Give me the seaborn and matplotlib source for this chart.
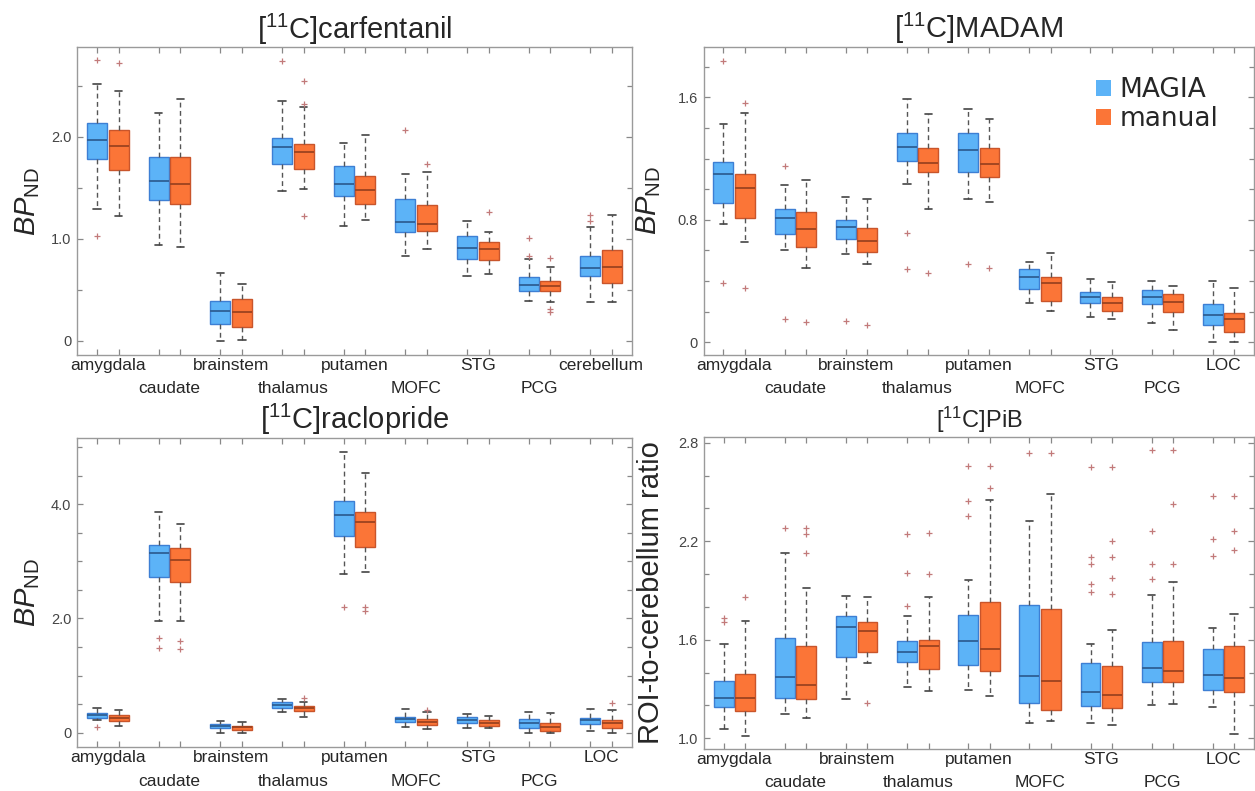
import numpy as np
import pandas as pd
import matplotlib
matplotlib.use('Agg')
import matplotlib.pyplot as plt
import matplotlib.patches as mpatches
from matplotlib.ticker import MultipleLocator
import seaborn as sns

#regions (carfentanil has cerebellum instead of LOC)
regions = ['amygdala', 'caudate', 'brainstem', 'thalamus', 'putamen', 'MOFC', 'STG', 'PCG', 'LOC']
regions_carf = regions[:8] + ['cerebellum']
methods = ['MAGIA', 'manual']

#box summaries: [lower whisker, Q1, median, Q3, upper whisker]
carf_magia = [[1.29, 1.78, 1.965, 2.13, 2.52], [0.94, 1.38, 1.565, 1.80, 2.23],
              [0.0, 0.165, 0.295, 0.385, 0.66], [1.47, 1.73, 1.895, 1.99, 2.355],
              [1.12, 1.415, 1.54, 1.715, 1.94], [0.835, 1.07, 1.16, 1.39, 1.63],
              [0.63, 0.80, 0.905, 1.03, 1.17], [0.385, 0.49, 0.547, 0.62, 0.80],
              [0.38, 0.63, 0.717, 0.83, 1.115]]
carf_magia_out = [[1.03, 2.75], [], [], [2.74], [], [2.065], [], [0.83, 1.01], [1.175, 1.23]]
carf_manual = [[1.22, 1.67, 1.91, 2.07, 2.445], [0.915, 1.34, 1.54, 1.80, 2.37],
               [0.01, 0.13, 0.28, 0.41, 0.555], [1.483, 1.685, 1.85, 1.93, 2.29],
               [1.18, 1.34, 1.475, 1.62, 2.02], [0.90, 1.078, 1.14, 1.326, 1.655],
               [0.655, 0.79, 0.895, 0.97, 1.068], [0.384, 0.489, 0.541, 0.589, 0.726],
               [0.375, 0.57, 0.726, 0.89, 1.232]]
carf_manual_out = [[2.72], [], [], [1.22, 2.32, 2.545], [], [1.737], [1.258], [0.277, 0.31, 0.814], []]

madam_magia = [[0.771, 0.908, 1.097, 1.18, 1.424], [0.603, 0.707, 0.81, 0.871, 1.027],
               [0.577, 0.673, 0.755, 0.799, 0.951], [1.034, 1.186, 1.278, 1.365, 1.589],
               [0.936, 1.11, 1.256, 1.365, 1.524], [0.255, 0.346, 0.428, 0.477, 0.526],
               [0.167, 0.259, 0.298, 0.327, 0.411], [0.128, 0.25, 0.298, 0.342, 0.40],
               [0.0, 0.113, 0.178, 0.248, 0.40]]
madam_magia_out = [[0.385, 1.837], [0.152, 1.153], [0.141], [0.477, 0.712], [0.509], [], [], [], []]
madam_manual = [[0.657, 0.81, 1.006, 1.099, 1.496], [0.483, 0.624, 0.74, 0.849, 1.06],
                [0.511, 0.592, 0.664, 0.745, 0.936], [0.871, 1.11, 1.169, 1.271, 1.491],
                [0.918, 1.078, 1.165, 1.267, 1.457], [0.206, 0.272, 0.385, 0.428, 0.585],
                [0.15, 0.206, 0.255, 0.298, 0.392], [0.08, 0.20, 0.261, 0.314, 0.37],
                [0.004, 0.069, 0.15, 0.189, 0.353]]
madam_manual_out = [[0.353, 1.565], [0.135], [0.113], [0.455], [0.487], [], [], [], []]

racl_magia = [[0.222, 0.263, 0.309, 0.35, 0.426], [1.956, 2.732, 3.14, 3.287, 3.87],
              [0.0, 0.076, 0.123, 0.152, 0.21], [0.368, 0.438, 0.485, 0.531, 0.59],
              [2.773, 3.45, 3.812, 4.05, 4.921], [0.093, 0.181, 0.239, 0.28, 0.42],
              [0.088, 0.163, 0.222, 0.269, 0.321], [0.0, 0.076, 0.163, 0.234, 0.368],
              [0.03, 0.146, 0.222, 0.263, 0.414]]
racl_magia_out = [[0.105], [1.489, 1.664], [], [], [2.195], [], [], [], []]
racl_manual = [[0.123, 0.21, 0.263, 0.309, 0.397], [1.956, 2.633, 3.024, 3.24, 3.649],
               [0.0, 0.047, 0.093, 0.123, 0.181], [0.28, 0.385, 0.427, 0.47, 0.545],
               [2.808, 3.257, 3.695, 3.859, 4.542], [0.058, 0.134, 0.193, 0.234, 0.36],
               [0.076, 0.123, 0.175, 0.222, 0.298], [0.0, 0.035, 0.105, 0.163, 0.35],
               [0.0, 0.088, 0.163, 0.222, 0.397]]
racl_manual_out = [[], [1.465, 1.611], [], [0.61], [2.131, 2.207], [0.40], [], [], [0.514]]

pib_magia = [[1.057, 1.193, 1.244, 1.349, 1.572], [1.146, 1.248, 1.371, 1.609, 2.126],
             [1.237, 1.497, 1.68, 1.747, 1.866], [1.315, 1.467, 1.524, 1.593, 1.747],
             [1.294, 1.446, 1.593, 1.751, 1.964], [1.091, 1.213, 1.381, 1.812, 2.323],
             [1.091, 1.199, 1.284, 1.461, 1.574], [1.203, 1.341, 1.426, 1.585, 1.873],
             [1.193, 1.294, 1.386, 1.542, 1.67]]
pib_magia_out = [[1.71, 1.735], [2.282], [], [1.808, 2.004, 2.242], [2.356, 2.445, 2.658], [2.735],
                 [1.893, 1.938, 2.059, 2.102, 2.654], [1.968, 2.059, 2.262, 2.759], [2.112, 2.213, 2.477]]
pib_manual = [[1.016, 1.168, 1.248, 1.39, 1.714], [1.126, 1.239, 1.325, 1.562, 1.913],
              [1.457, 1.528, 1.655, 1.71, 1.862], [1.288, 1.422, 1.564, 1.599, 1.858],
              [1.26, 1.41, 1.544, 1.83, 2.451], [1.106, 1.175, 1.349, 1.79, 2.487],
              [1.081, 1.183, 1.264, 1.442, 1.66], [1.207, 1.341, 1.41, 1.59, 1.955],
              [1.024, 1.284, 1.365, 1.564, 1.755]]
pib_manual_out = [[1.858], [2.126, 2.242, 2.278], [1.213], [2.0, 2.248], [2.522, 2.658], [2.74],
                  [1.877, 1.978, 2.102, 2.203, 2.65], [2.061, 2.427, 2.755], [2.146, 2.262, 2.475]]

#repeat the quartiles so seaborn reproduces the same box summary
REP = 40

def make_frame(regs, magia, magia_out, manual, manual_out):
    rows = []
    for method, stats, outs in [('MAGIA', magia, magia_out), ('manual', manual, manual_out)]:
        for reg, s, o in zip(regs, stats, outs):
            lo, q1, med, q3, hi = s
            vals = [lo, hi] + [q1] * REP + [med] * REP + [q3] * REP + list(o)
            rows += [(reg, method, v) for v in vals]
    return pd.DataFrame(rows, columns=['region', 'method', 'value'])

sns.set_style('white')
plt.rcParams['font.family'] = ['Liberation Sans', 'DejaVu Sans']
plt.rcParams['mathtext.fontset'] = 'custom'
plt.rcParams['mathtext.rm'] = 'Liberation Sans'
plt.rcParams['mathtext.it'] = 'Liberation Sans:italic'
plt.rcParams['mathtext.bf'] = 'Liberation Sans:bold'

fills = {'MAGIA': '#5cb3f7', 'manual': '#fb7537'}
edges = {'MAGIA': '#3d7fd4', 'manual': '#c9552b'}
medians = {'MAGIA': '#2e5f95', 'manual': '#9c431f'}

bp = r'$\mathit{BP}_{\mathrm{ND}}$'
panels = [
    dict(title='[$^{11}$C]carfentanil', tsize=21, regs=regions_carf,
         df=make_frame(regions_carf, carf_magia, carf_magia_out, carf_manual, carf_manual_out),
         ylim=(-0.14, 2.88), yt=[0, 1.0, 2.0], ytl=['0', '1.0', '2.0'], minor=0.5,
         ylabel=bp, lx=-0.063, rect=[0.06135, 0.5512, 0.44223, 0.38938]),
    dict(title='[$^{11}$C]MADAM', tsize=21, regs=regions,
         df=make_frame(regions, madam_magia, madam_magia_out, madam_manual, madam_manual_out),
         ylim=(-0.083, 1.93), yt=[0, 0.8, 1.6], ytl=['0', '0.8', '1.6'], minor=0.2,
         ylabel=bp, lx=-0.073, rect=[0.56056, 0.5512, 0.43865, 0.38976]),
    dict(title='[$^{11}$C]raclopride', tsize=21, regs=regions,
         df=make_frame(regions, racl_magia, racl_magia_out, racl_manual, racl_manual_out),
         ylim=(-0.256, 5.166), yt=[0, 2.0, 4.0], ytl=['0', '2.0', '4.0'], minor=0.5,
         ylabel=bp, lx=-0.063, rect=[0.06135, 0.05525, 0.44223, 0.3914]),
    dict(title='[$^{11}$C]PiB', tsize=17, regs=regions,
         df=make_frame(regions, pib_magia, pib_magia_out, pib_manual, pib_manual_out),
         ylim=(0.935, 2.837), yt=[1.0, 1.6, 2.2, 2.8], ytl=['1.0', '1.6', '2.2', '2.8'], minor=0.2,
         ylabel='ROI-to-cerebellum ratio', lx=-0.071, rect=[0.56096, 0.0531, 0.43825, 0.39482]),
]

fig = plt.figure(figsize=(12.55, 7.91), dpi=100)

def side(x):
    #which hue a dodged artist belongs to, from its x centre
    return 'MAGIA' if x - round(x) < 0 else 'manual'

for k, p in enumerate(panels):
    ax = fig.add_axes(p['rect'])
    sns.boxplot(data=p['df'], x='region', y='value', hue='method',
                hue_order=methods, order=p['regs'], palette=fills, saturation=1,
                width=0.7, gap=0.07, linecolor='#555555', linewidth=1, whis=1.5,
                medianprops=dict(linewidth=1.3),
                whiskerprops=dict(color='#555555', linestyle=(0, (3.5, 2.5)), linewidth=1),
                capprops=dict(color='#444444', linewidth=1.2),
                flierprops=dict(marker='+', markeredgecolor='#c27a7a', markersize=5,
                                markeredgewidth=0.9),
                capwidths=0.12, legend=False, ax=ax)
    #box edges and medians coloured per method
    for patch in ax.patches:
        xc = patch.get_path().vertices[:, 0].mean()
        patch.set_edgecolor(edges[side(xc)])
    for ln in ax.lines:
        xd = np.asarray(ln.get_xdata(), dtype=float)
        yd = np.asarray(ln.get_ydata(), dtype=float)
        if len(xd) == 2 and yd[0] == yd[1] and abs(xd[1] - xd[0]) > 0.2:
            ln.set_color(medians[side(xd.mean())])

    n = len(p['regs'])
    ax.set_xlim(-0.5, n - 0.5)
    ax.set_xticks(range(0, n, 2))
    ax.set_xticklabels(p['regs'][0::2], fontsize=12.5)
    ax.set_xticks([i + d for i in range(n) for d in (-0.175, 0.175)], minor=True)
    ax.tick_params(axis='x', which='major', length=0, pad=2)
    ax.tick_params(axis='x', which='minor', direction='in', length=4, width=0.9,
                   color='#888888', top=True, bottom=True)
    #second row of region names
    sec = ax.secondary_xaxis('bottom')
    sec.set_xticks(range(1, n, 2))
    sec.set_xticklabels(p['regs'][1::2], fontsize=12.5)
    sec.tick_params(axis='x', length=0, pad=19)
    sec.spines['bottom'].set_visible(False)

    ax.set_ylim(p['ylim'])
    ax.set_yticks(p['yt'])
    ax.set_yticklabels(p['ytl'], fontsize=10.5, color='#444444')
    ax.yaxis.set_minor_locator(MultipleLocator(p['minor']))
    ax.tick_params(axis='y', which='both', direction='in', color='#888888',
                   left=True, right=True, width=0.9, pad=4)
    ax.tick_params(axis='y', which='major', length=4)
    ax.tick_params(axis='y', which='minor', length=3.5)
    ax.set_xlabel('')
    ax.set_ylabel(p['ylabel'], fontsize=21)
    ax.yaxis.set_label_coords(p['lx'], 0.5)
    ax.set_title(p['title'], fontsize=p['tsize'], pad=6)
    for s in ax.spines.values():
        s.set_visible(True)
        s.set_color('#9a9a9a')
        s.set_linewidth(1)
    if k == 1:
        handles = [mpatches.Patch(facecolor=fills[m], edgecolor='none') for m in methods]
        ax.legend(handles, methods, loc='upper right', bbox_to_anchor=(0.955, 0.935),
                  frameon=False, handlelength=0.55, handleheight=0.55, handletextpad=0.35,
                  labelspacing=0.1, borderaxespad=0,
                  prop={'family': 'DejaVu Sans', 'size': 19})

plt.savefig('out.png', dpi=100)
